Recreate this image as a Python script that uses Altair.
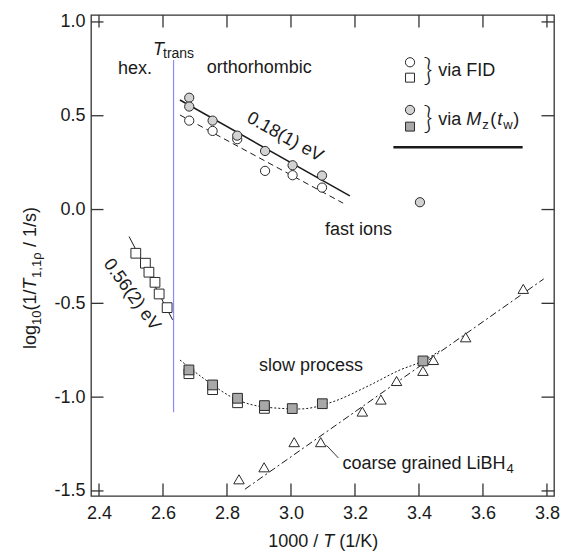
import altair as alt
import pandas as pd

FONT = "Liberation Sans"
INK = "#1a1a1a"

# ---------------- data ----------------
# orthorhombic phase, via FID (open circles)
fid_circ_x = [2.682, 2.755, 2.832, 2.919, 3.005, 3.097]
fid_circ_y = [0.474, 0.419, 0.375, 0.206, 0.183, 0.117]
# via Mz(tw) (grey circles)
mz_circ_x = [2.682, 2.682, 2.755, 2.832, 2.919, 3.005, 3.097, 3.403]
mz_circ_y = [0.596, 0.549, 0.474, 0.394, 0.312, 0.236, 0.181, 0.039]
# hexagonal phase, via FID (open squares)
hex_sq_x = [2.515, 2.545, 2.556, 2.575, 2.588, 2.613]
hex_sq_y = [-0.233, -0.286, -0.334, -0.388, -0.450, -0.523]
# slow process, via FID (open squares)
slow_fid_x = [2.681, 2.755, 2.833, 2.917]
slow_fid_y = [-0.875, -0.960, -1.030, -1.060]
# slow process, via Mz(tw) (grey squares)
slow_mz_x = [2.681, 2.755, 2.833, 2.917, 3.004, 3.098, 3.4125]
slow_mz_y = [-0.855, -0.935, -1.006, -1.045, -1.061, -1.035, -0.807]
# coarse grained LiBH4 (open triangles)
tri_x = [2.8375, 2.916, 3.010, 3.093, 3.223, 3.281, 3.330, 3.4125, 3.445, 3.546, 3.726]
tri_y = [-1.438, -1.374, -1.240, -1.240, -1.077, -1.013, -0.914, -0.860, -0.802, -0.681, -0.423]

# fit lines
fit_mz_x, fit_mz_y = [2.653, 3.184], [0.584, 0.0725]
fit_fid_x, fit_fid_y = [2.653, 3.163], [0.504, 0.034]
fit_hex_x, fit_hex_y = [2.494, 2.630], [-0.144, -0.588]
slow_curve_x = [2.653, 2.726, 2.833, 2.924, 3.028, 3.132, 3.237, 3.341, 3.4125, 3.466]
slow_curve_y = [-0.802, -0.899, -1.015, -1.054, -1.063, -1.024, -0.944, -0.855, -0.807, -0.752]
coarse_fit_x, coarse_fit_y = [2.856, 3.79], [-1.491, -0.37]
ttrans_x, ttrans_y = [2.633, 2.633], [0.797, -1.08]

# legend
leg_x = 3.372
leg_open_y = [0.785, 0.703]
leg_grey_y = [0.531, 0.442]
leg_line_x, leg_line_y = [3.320, 3.724], [0.332, 0.332]

# axes
x_ticks = [2.4, 2.6, 2.8, 3.0, 3.2, 3.4, 3.6, 3.8]
y_ticks = [1.0, 0.5, 0.0, -0.5, -1.0, -1.5]
XDOM = [2.375, 3.822]
YDOM = [-1.527, 1.037]

# ---------------- helpers ----------------
xaxis = alt.Axis(values=x_ticks, format=".1f", ticks=False, tickSize=0, domain=False, grid=False,
                 labelFont=FONT, labelFontSize=18, labelColor=INK, labelPadding=8,
                 labelFlush=False, labelOverlap=False, title=None)
yaxis = alt.Axis(values=y_ticks, format=".1f", ticks=False, tickSize=0, domain=False, grid=False,
                 labelFont=FONT, labelFontSize=18, labelColor=INK, labelPadding=6,
                 labelExpr="replace(datum.label, '\u2212', '-')",
                 labelFlush=False, labelOverlap=False, title=None)
X = alt.X("x:Q", scale=alt.Scale(domain=XDOM, nice=False, zero=False), axis=xaxis)
Y = alt.Y("y:Q", scale=alt.Scale(domain=YDOM, nice=False, zero=False), axis=yaxis)


def df(xs, ys):
    return pd.DataFrame({"x": xs, "y": ys})


def pts(xs, ys, shape, fill, size):
    return alt.Chart(df(xs, ys)).mark_point(
        shape=shape, filled=True, fill=fill, stroke="#2a2a2a", strokeWidth=1,
        size=size, opacity=1, fillOpacity=1
    ).encode(x=X, y=Y)


def line(xs, ys, width=1.0, dash=None, color=INK, interp="linear"):
    kw = dict(color=color, strokeWidth=width, interpolate=interp)
    if dash:
        kw["strokeDash"] = dash
    return alt.Chart(df(xs, ys)).mark_line(**kw).encode(x=X, y=Y)


def txt(x, y, s, size=18, italic=False, angle=0, align="left", baseline="middle",
        dx=0, dy=0, font=FONT, weight="normal"):
    d = pd.DataFrame({"x": [x], "y": [y], "t": [s]})
    kw = dict(font=font, fontSize=size, fontStyle="italic" if italic else "normal",
              fontWeight=weight, align=align, baseline=baseline, color=INK, dx=dx, dy=dy)
    if angle:
        kw["angle"] = angle
    return alt.Chart(d).mark_text(**kw).encode(x=X, y=Y, text="t:N")


layers = []

# inward ticks on all four sides (clipped to plot area)
xt = pd.DataFrame({"x": x_ticks * 2, "y": [YDOM[0]] * len(x_ticks) + [YDOM[1]] * len(x_ticks)})
yt = pd.DataFrame({"x": [XDOM[0]] * len(y_ticks) + [XDOM[1]] * len(y_ticks), "y": y_ticks * 2})
layers.append(alt.Chart(xt).mark_tick(orient="vertical", size=25, thickness=1.3, color="#333",
                                      clip=True, opacity=1).encode(x=X, y=Y))
layers.append(alt.Chart(yt).mark_tick(orient="horizontal", size=25, thickness=1.3, color="#333",
                                      clip=True, opacity=1).encode(x=X, y=Y))

# transition line
layers.append(line(ttrans_x, ttrans_y, width=1.2, color="#8c8cf2"))

# fit lines
layers.append(line(fit_mz_x, fit_mz_y, width=1.5))
layers.append(line(fit_fid_x, fit_fid_y, width=1.0, dash=[6, 4]))
layers.append(line(fit_hex_x, fit_hex_y, width=1.0))
layers.append(line(slow_curve_x, slow_curve_y, width=1.0, dash=[2, 2], interp="monotone"))
layers.append(line(coarse_fit_x, coarse_fit_y, width=1.0, dash=[7, 3, 2, 3]))

# data points
layers.append(pts(fid_circ_x, fid_circ_y, "circle", "white", 85))
layers.append(pts(mz_circ_x, mz_circ_y, "circle", "#d2d2d2", 85))
layers.append(pts(hex_sq_x, hex_sq_y, "square", "white", 95))
layers.append(pts(slow_fid_x, slow_fid_y, "square", "white", 95))
layers.append(pts(slow_mz_x, slow_mz_y, "square", "#a8a8a8", 95))
layers.append(pts(tri_x, tri_y, "triangle-up", "white", 110))

# leader line for coarse grained label
layers.append(line([3.111, 3.148], [-1.257, -1.324], width=1.0, color="#333"))

# legend
layers.append(pts([leg_x], [leg_open_y[0]], "circle", "white", 85))
layers.append(pts([leg_x], [leg_open_y[1]], "square", "white", 80))
layers.append(pts([leg_x], [leg_grey_y[0]], "circle", "#d2d2d2", 85))
layers.append(pts([leg_x], [leg_grey_y[1]], "square", "#a8a8a8", 80))
layers.append(line(leg_line_x, leg_line_y, width=2.5))
layers.append(txt(3.428, 0.740, "}", size=32, align="center", font="Lato", weight=300))
layers.append(txt(3.428, 0.482, "}", size=32, align="center", font="Lato", weight=300))
layers.append(txt(3.460, 0.740, "via FID"))
layers.append(txt(3.460, 0.478, "via"))
layers.append(txt(3.460, 0.478, "M", italic=True, dx=28))
layers.append(txt(3.460, 0.478, "z", size=13, dx=44, dy=5))
layers.append(txt(3.460, 0.478, "(", dx=52))
layers.append(txt(3.460, 0.478, "t", italic=True, dx=59))
layers.append(txt(3.460, 0.478, "w", size=13, dx=65, dy=5))
layers.append(txt(3.460, 0.478, ")", dx=75))

# annotations
layers.append(txt(2.569, 0.824, "T", italic=True, baseline="alphabetic"))
layers.append(txt(2.600, 0.808, "trans", size=14, baseline="alphabetic"))
layers.append(txt(2.5125, 0.749, "hex.", align="center"))
layers.append(txt(2.7366, 0.755, "orthorhombic"))
layers.append(txt(2.981, 0.385, "0.18(1) eV", angle=29, align="center"))
layers.append(txt(2.502, -0.455, "0.56(2) eV", angle=54, align="center"))
layers.append(txt(3.211, -0.109, "fast ions", align="center"))
layers.append(txt(3.0625, -0.832, "slow process", align="center"))
layers.append(txt(3.161, -1.358, "coarse grained LiBH", size=18))
layers.append(txt(3.161, -1.358, "4", size=13, dx=164, dy=5))

# axis titles built from pieces (italic / subscripts)
xt_x, xt_y = 2.929, -1.799
layers.append(txt(xt_x, xt_y, "1000 /", baseline="alphabetic"))
layers.append(txt(xt_x, xt_y, "T", italic=True, baseline="alphabetic", dx=55))
layers.append(txt(xt_x, xt_y, "(1/K)", baseline="alphabetic", dx=71))

yt_x, yt_y = 2.203, -0.743
layers.append(txt(yt_x, yt_y, "log", angle=270, baseline="alphabetic"))
layers.append(txt(yt_x, yt_y, "10", size=13, angle=270, baseline="alphabetic", dx=24, dy=5))
layers.append(txt(yt_x, yt_y, "(1/", angle=270, baseline="alphabetic", dx=38.5))
layers.append(txt(yt_x, yt_y, "T", italic=True, angle=270, baseline="alphabetic", dx=59.5))
layers.append(txt(yt_x, yt_y, "1,1\u03c1", size=13, angle=270, baseline="alphabetic", dx=71, dy=5))
layers.append(txt(yt_x, yt_y, "/ 1/s)", angle=270, baseline="alphabetic", dx=102))

chart = alt.layer(*layers).properties(
    width=463, height=481,
    padding={"left": 91, "top": 15, "right": 8, "bottom": 62},
    autosize=alt.AutoSizeParams(type="none"),
    background="white",
).configure_view(stroke="#333", strokeWidth=1.3)

chart.save("out.html", embed_options={"renderer": "svg", "actions": False})
